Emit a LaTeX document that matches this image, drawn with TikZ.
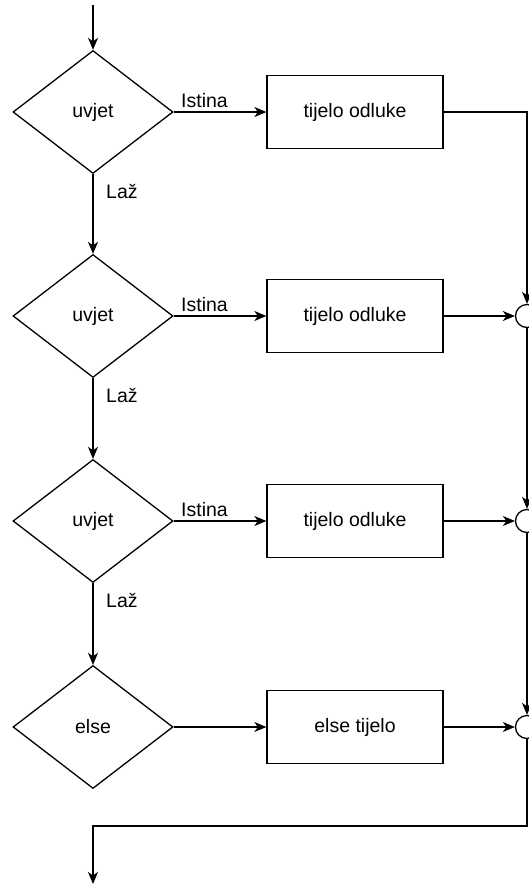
\documentclass[tikz,border=0pt]{standalone}
\usepackage{fontspec}
\setmainfont{Liberation Sans}
\usetikzlibrary{shapes.geometric,arrows.meta}

\begin{document}
\begin{tikzpicture}[x=1pt,y=-1pt,
  every node/.style={font=\fontsize{19.5}{23}\selectfont},
  decision/.style={diamond,draw,line width=1.3pt,minimum width=160pt,minimum height=123pt,inner sep=0pt},
  body/.style={rectangle,draw,line width=1.3pt,minimum width=176pt,minimum height=73pt,inner sep=0pt},
  junction/.style={circle,draw,fill=white,line width=1.3pt,minimum size=23pt,inner sep=0pt},
  flow/.style={line width=1.3pt,-{Stealth[length=12pt,width=10pt,inset=3.5pt]}},
  lbl/.style={inner sep=0pt}]
  \useasboundingbox (0,0) rectangle (529,884);

  % decisions
  \node[decision] (d1) at (93,112) {uvjet};
  \node[decision] (d2) at (93,316) {uvjet};
  \node[decision] (d3) at (93,521) {uvjet};
  \node[decision] (d4) at (93,727) {else};

  % bodies
  \node[body] (b1) at (355,112) {tijelo odluke};
  \node[body] (b2) at (355,316) {tijelo odluke};
  \node[body] (b3) at (355,521) {tijelo odluke};
  \node[body] (b4) at (355,727) {else tijelo};

  % merge points
  \node[junction] (j2) at (527,316) {};
  \node[junction] (j3) at (527,521) {};
  \node[junction] (j4) at (527,727) {};

  \coordinate (start) at (93,5);
  \coordinate (end) at (93,884);
  \coordinate (c1) at (527,112);
  \coordinate (c4) at (527,826);
  \coordinate (c5) at (93,826);

  % entry
  \draw[flow] (start) -- (d1.north);

  % true branches
  \draw[flow] (d1.east) -- (b1.west);
  \draw[flow] (d2.east) -- (b2.west);
  \draw[flow] (d3.east) -- (b3.west);
  \draw[flow] (d4.east) -- (b4.west);
  \node[lbl,anchor=base west] at (181,107) {Istina};
  \node[lbl,anchor=base west] at (181,311) {Istina};
  \node[lbl,anchor=base west] at (181,516) {Istina};

  % false branches
  \draw[flow] (d1.south) -- (d2.north);
  \draw[flow] (d2.south) -- (d3.north);
  \draw[flow] (d3.south) -- (d4.north);
  \node[lbl,anchor=base west] at (106,198) {Laž};
  \node[lbl,anchor=base west] at (106,402) {Laž};
  \node[lbl,anchor=base west] at (106,607) {Laž};

  % merging
  \draw[flow] (b1.east) -- (c1) -- (j2.north);
  \draw[flow] (b2.east) -- (j2.west);
  \draw[flow] (b3.east) -- (j3.west);
  \draw[flow] (b4.east) -- (j4.west);
  \draw[flow] (j2.south) -- (j3.north);
  \draw[flow] (j3.south) -- (j4.north);

  % exit
  \draw[flow] (j4.south) -- (c4) -- (c5) -- (end);
\end{tikzpicture}
\end{document}
